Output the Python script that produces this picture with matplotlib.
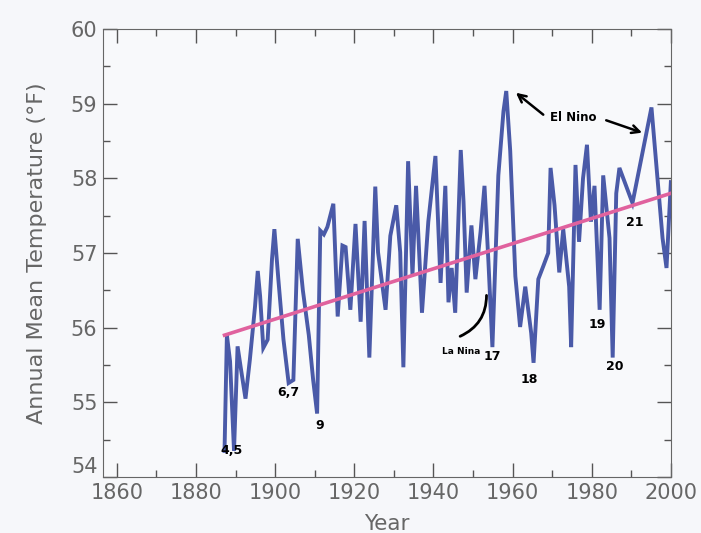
import matplotlib
matplotlib.use("Agg")
from matplotlib import pyplot, ticker

# annual mean temperature readings (year, degF), rows of ten
years = [1887.2, 1887.8, 1888.6, 1889.6, 1890.5, 1891.4, 1892.5, 1893.6, 1894.9, 1895.6,
         1896.2, 1897.0, 1898.1, 1899.2, 1899.8, 1900.8, 1902.1, 1903.4, 1904.6, 1905.7,
         1907.0, 1908.5, 1909.6, 1910.6, 1911.4, 1912.3, 1913.2, 1914.7, 1915.8, 1917.0,
         1917.8, 1919.0, 1920.3, 1921.6, 1922.6, 1923.8, 1925.3, 1926.0, 1927.9, 1929.1,
         1930.6, 1931.6, 1932.4, 1933.6, 1934.7, 1935.6, 1937.1, 1938.7, 1940.5, 1941.8,
         1943.0, 1943.8, 1944.6, 1945.5, 1946.9, 1947.6, 1948.4, 1949.6, 1950.6, 1951.9,
         1952.9, 1953.9, 1954.9, 1956.4, 1957.7, 1958.4, 1959.4, 1960.7, 1961.9, 1963.2,
         1964.7, 1965.3, 1966.5, 1967.8, 1969.0, 1969.6, 1970.6, 1971.8, 1972.8, 1974.3,
         1974.8, 1975.9, 1976.8, 1977.8, 1978.8, 1979.8, 1980.7, 1982.0, 1982.9, 1984.5,
         1985.3, 1986.2, 1987.0, 1990.3, 1995.1, 1997.9, 1998.9, 2000.0]
temps = [54.35, 55.9, 55.55, 54.35, 55.75, 55.43, 55.05, 55.57, 56.28, 56.76,
         56.42, 55.73, 55.84, 56.92, 57.32, 56.65, 55.84, 55.26, 55.3, 57.19,
         56.5, 55.9, 55.3, 54.85, 57.3, 57.25, 57.35, 57.66, 56.15, 57.1,
         57.08, 56.24, 57.39, 56.08, 57.43, 55.6, 57.89, 57.01, 56.24, 57.23,
         57.64, 57.01, 55.47, 58.23, 56.7, 57.9, 56.2, 57.42, 58.3, 56.6,
         57.9, 56.34, 56.8, 56.2, 58.38, 57.69, 56.47, 57.37, 56.65, 57.28,
         57.9, 56.88, 55.74, 58.04, 58.9, 59.17, 58.37, 56.69, 56.01, 56.55,
         55.93, 55.53, 56.65, 56.83, 57.0, 58.14, 57.64, 56.74, 57.32, 56.55,
         55.74, 58.18, 57.15, 58.0, 58.45, 57.42, 57.9, 56.24, 58.04, 57.2,
         55.6, 57.8, 58.14, 57.67, 58.95, 57.2, 56.8, 57.95]

trend_years = [1887.2, 2000]
trend_temps = [55.9, 57.8]

# numbered events: label, year, temperature
labels = ["4,5", "6,7", "9", "17", "18", "19", "20", "21"]
label_years = [1889.0, 1903.2, 1911.3, 1954.9, 1964.3, 1981.5, 1985.8, 1990.8]
label_temps = [54.35, 55.13, 54.69, 55.61, 55.31, 56.04, 55.48, 57.41]

# plot data
figure = pyplot.figure(figsize=(7.01, 5.33), dpi=100, facecolor="#f6f7fa")
axis = figure.add_axes([0.147, 0.105, 0.810, 0.8405], facecolor="#f8f9fb")
axis.plot(years, temps, color="#4a5aa8", linewidth=2.8, solid_joinstyle="miter")
axis.plot(trend_years, trend_temps, color="#e0629e", linewidth=2.6)

for text, x, y in zip(labels, label_years, label_temps):
    axis.text(x, y, text, ha="center", va="center", fontsize=9,
              fontweight="bold", color="black")

axis.text(1947.1, 55.68, "La Nina", ha="center", va="center", fontsize=6.5,
          fontweight="bold")
axis.annotate("", xy=(1953.4, 56.47), xytext=(1946.1, 55.87),
              arrowprops=dict(arrowstyle="-", color="black", linewidth=2,
                              connectionstyle="arc3,rad=0.35"))
axis.text(1975.4, 58.81, "El Nino", ha="center", va="center", fontsize=8.5,
          fontweight="bold")
axis.annotate("", xy=(1960.3, 59.17), xytext=(1968.3, 58.83),
              arrowprops=dict(arrowstyle="->", color="black", linewidth=1.8,
                              mutation_scale=14))
axis.annotate("", xy=(1993.4, 58.6), xytext=(1983.0, 58.79),
              arrowprops=dict(arrowstyle="->", color="black", linewidth=1.8,
                              mutation_scale=14))

axis.set_xlim(1856.5, 2000)
axis.set_ylim(54, 60)
axis.set_xticks(range(1860, 2001, 20))
axis.xaxis.set_minor_locator(ticker.MultipleLocator(10))
axis.set_yticks(range(54, 61))
axis.yaxis.set_minor_locator(ticker.MultipleLocator(0.5))
axis.tick_params(which="both", direction="in", top=True, right=True,
                 color="#555555", labelsize=15, labelcolor="#666666")
axis.tick_params(which="major", length=10, width=1)
axis.tick_params(which="minor", length=5, width=1)
axis.tick_params(axis="y", pad=4)
axis.tick_params(axis="x", pad=4)
# the bottom y label sits above its tick, clear of the year labels
axis.get_yticklabels()[0].set_verticalalignment("bottom")
for spine in axis.spines.values():
    spine.set_color("#666666")
axis.set_xlabel("Year", fontsize=15.5, color="#666666", labelpad=8)
axis.set_ylabel("Annual Mean Temperature (\u00b0F)", fontsize=16,
                color="#666666", labelpad=17)

pyplot.savefig("out.png", dpi=100, facecolor=figure.get_facecolor())
